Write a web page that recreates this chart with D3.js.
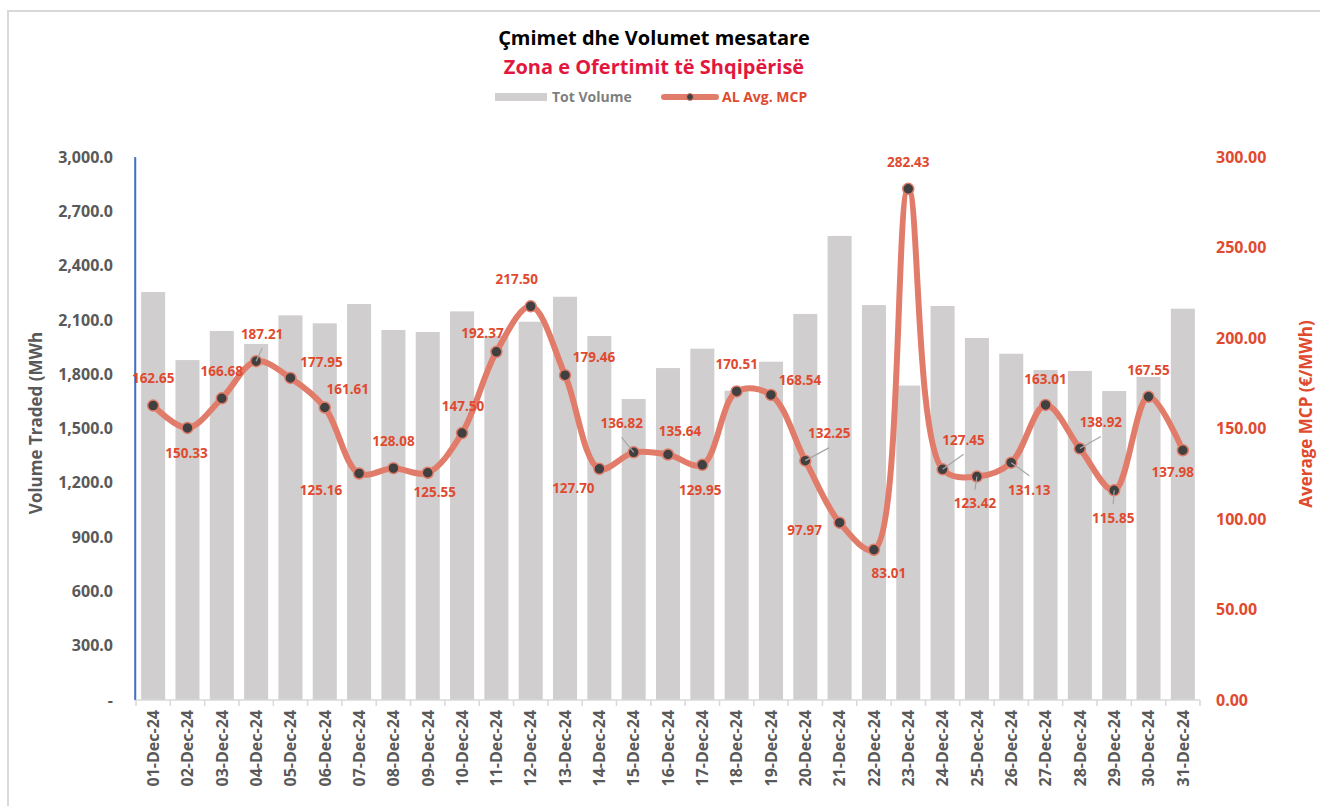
<!DOCTYPE html>
<html>
<head>
<meta charset="utf-8">
<script src="https://cdn.jsdelivr.net/npm/d3@7"></script>
<style>
  html, body { margin: 0; padding: 0; background: #fff; }
  svg { display: block; }
  text { font-family: "Open Sans", "Noto Sans", sans-serif; font-weight: 700; }
</style>
</head>
<body>
<svg id="chart" width="1320" height="806"></svg>
<script>
const dates = ["01-Dec-24","02-Dec-24","03-Dec-24","04-Dec-24","05-Dec-24","06-Dec-24","07-Dec-24","08-Dec-24","09-Dec-24","10-Dec-24","11-Dec-24","12-Dec-24","13-Dec-24","14-Dec-24","15-Dec-24","16-Dec-24","17-Dec-24","18-Dec-24","19-Dec-24","20-Dec-24","21-Dec-24","22-Dec-24","23-Dec-24","24-Dec-24","25-Dec-24","26-Dec-24","27-Dec-24","28-Dec-24","29-Dec-24","30-Dec-24","31-Dec-24"];
const totVolume = [2254,1878,2039,1967,2125,2081,2188,2044,2033,2147,2011,2090,2228,2011,1663,1834,1941,1709,1869,2133,2564,2182,1737,2177,2000,1913,1823,1818,1707,1785,2162];
const avgMCP = [162.65,150.33,166.68,187.21,177.95,161.61,125.16,128.08,125.55,147.50,192.37,217.50,179.46,127.70,136.82,135.64,129.95,170.51,168.54,132.25,97.97,83.01,282.43,127.45,123.42,131.13,163.01,138.92,115.85,167.55,137.98];
const volumeTicks = [0,300,600,900,1200,1500,1800,2100,2400,2700,3000];
const mcpTicks = [0,50,100,150,200,250,300];
const titleText = "Çmimet dhe Volumet mesatare";
const subtitleText = "Zona e Ofertimit të Shqipërisë";
const seriesNames = ["Tot Volume", "AL Avg. MCP"];
const leftAxisTitle = "Volume Traded (MWh";
const rightAxisTitle = "Average MCP (€/MWh)";

// label placement (layout only): [dx, dy, leader]
const labelLayout = [
  [0,-27,0],[-1,25,0],[0,-27,0],[6,-27,1],[31,-16,0],[23,-18,0],[-38,17,0],[0,-27,0],[7,19,0],[1,-27,0],
  [-14,-19,0],[-14,-27,0],[29,-18,0],[-26,19,0],[-12,-29,1],[12,-23,0],[-2,25,0],[0,-27,0],[29,-15,0],[24,-27,1],
  [-35,7,0],[15,23,0],[0,-27,0],[21,-29,1],[-2,27,1],[18,27,1],[0,-26,0],[21,-26,1],[-1,28,1],[0,-27,0],[-10,22,0]
];

const C = {
  bar: "#D0CECE", line: "#E27C6A", marker: "#404040", label: "#E04A2F",
  title: "#000000", subtitle: "#E3173E", gray: "#595959", legendGray: "#7F7F7F",
  axisBlue: "#4472C4", axisGray: "#D9D9D9", leader: "#A6A6A6"
};

const svg = d3.select("#chart");
const plot = {left: 136, right: 1200, top: 157, bottom: 700};

// outer border
svg.append("rect").attr("x", 8).attr("y", 11).attr("width", 1330).attr("height", 800)
  .attr("fill", "none").attr("stroke", C.axisGray).attr("stroke-width", 2);

const x = d3.scaleBand().domain(dates).range([plot.left, plot.right]).paddingInner(0.3).paddingOuter(0.15);
const yL = d3.scaleLinear().domain([0, 3000]).range([plot.bottom, plot.top]);
const yR = d3.scaleLinear().domain([0, 300]).range([plot.bottom, plot.top]);

// Bars
svg.append("g").selectAll("rect").data(totVolume).join("rect")
  .attr("x", (d, i) => x(dates[i]))
  .attr("width", x.bandwidth())
  .attr("y", d => yL(d))
  .attr("height", d => yL(0) - yL(d))
  .attr("fill", C.bar);

// Left axis
const gL = svg.append("g").attr("transform", `translate(${plot.left - 1},0)`)
  .call(d3.axisLeft(yL).tickValues(volumeTicks).tickSize(0).tickPadding(22)
    .tickFormat(d => d === 0 ? "-    " : d3.format(",.1f")(d)));
gL.select(".domain").attr("stroke", C.axisBlue).attr("stroke-width", 1.5);
gL.selectAll("text").attr("fill", C.gray).attr("font-size", 16).style("font-family", '"Open Sans", sans-serif').style("font-weight", 700);

// Right axis
const gR = svg.append("g").attr("transform", `translate(${plot.right + 16},0)`)
  .call(d3.axisRight(yR).tickValues(mcpTicks).tickSize(0).tickPadding(0).tickFormat(d3.format(".2f")));
gR.select(".domain").remove();
gR.selectAll("text").attr("fill", C.label).attr("font-size", 16).style("font-family", '"Open Sans", sans-serif').style("font-weight", 700);

// Bottom axis
const gB = svg.append("g").attr("transform", `translate(0,${plot.bottom})`);
gB.append("line").attr("x1", plot.left - 1).attr("x2", plot.right).attr("stroke", C.axisGray).attr("stroke-width", 1.5);
const boundaries = d3.range(dates.length + 1).map(i => i === dates.length ? plot.right : x(dates[i]) - x.step() * x.paddingInner() / 2);
gB.selectAll("line.tick").data(boundaries).join("line").attr("class", "tick")
  .attr("x1", d => d).attr("x2", d => d).attr("y1", 0).attr("y2", 6)
  .attr("stroke", C.axisGray).attr("stroke-width", 1.5);
gB.selectAll("text").data(dates).join("text")
  .attr("transform", d => `translate(${x(d) + x.bandwidth() / 2},10) rotate(-90)`)
  .attr("text-anchor", "end").attr("dy", "0.36em")
  .attr("fill", C.gray).attr("font-size", 16).text(d => d);

// blue axis line on top of bars
svg.append("line").attr("x1", plot.left - 1).attr("x2", plot.left - 1).attr("y1", plot.top).attr("y2", plot.bottom)
  .attr("stroke", C.axisBlue).attr("stroke-width", 1.5);

// Line
const cx = i => x(dates[i]) + x.bandwidth() / 2;
const lineGen = d3.line().x((d, i) => cx(i)).y(d => yR(d)).curve(d3.curveCatmullRom.alpha(0.5));
svg.append("path").datum(avgMCP).attr("d", lineGen)
  .attr("fill", "none").attr("stroke", C.line).attr("stroke-width", 6).attr("stroke-linecap", "round");

// Markers
svg.append("g").selectAll("circle").data(avgMCP).join("circle")
  .attr("cx", (d, i) => cx(i)).attr("cy", d => yR(d)).attr("r", 5.5)
  .attr("fill", C.marker).attr("stroke", C.line).attr("stroke-width", 1.5);

// Leader lines
svg.append("g").selectAll("line").data(avgMCP.map((d, i) => ({d, i})).filter(o => labelLayout[o.i][2]))
  .join("line")
  .attr("x1", o => cx(o.i)).attr("y1", o => yR(o.d))
  .attr("x2", o => cx(o.i) + labelLayout[o.i][0])
  .attr("y2", o => yR(o.d) + labelLayout[o.i][1] - Math.sign(labelLayout[o.i][1]) * 14)
  .attr("stroke", C.leader).attr("stroke-width", 1.2);

// Data labels
svg.append("g").selectAll("text").data(avgMCP).join("text")
  .attr("x", (d, i) => cx(i) + labelLayout[i][0])
  .attr("y", (d, i) => yR(d) + labelLayout[i][1])
  .attr("dy", "0.36em").attr("text-anchor", "middle")
  .attr("fill", C.label).attr("font-size", 13.5)
  .text(d => d3.format(".2f")(d));

// Titles
svg.append("text").attr("x", 654).attr("y", 38).attr("dy", "0.36em").attr("text-anchor", "middle")
  .attr("fill", C.title).attr("font-size", 20).text(titleText);
svg.append("text").attr("x", 654).attr("y", 67).attr("dy", "0.36em").attr("text-anchor", "middle")
  .attr("fill", C.subtitle).attr("font-size", 20).text(subtitleText);

// Legend
const lg = svg.append("g");
lg.append("rect").attr("x", 495).attr("y", 93).attr("width", 52).attr("height", 8).attr("fill", C.bar);
lg.append("text").attr("x", 552).attr("y", 97).attr("dy", "0.36em").attr("fill", C.legendGray).attr("font-size", 14).text(seriesNames[0]);
lg.append("line").attr("x1", 664).attr("x2", 716).attr("y1", 97).attr("y2", 97)
  .attr("stroke", C.line).attr("stroke-width", 6).attr("stroke-linecap", "round");
lg.append("circle").attr("cx", 690).attr("cy", 97).attr("r", 3.5).attr("fill", C.marker).attr("stroke", C.line).attr("stroke-width", 1);
lg.append("text").attr("x", 722).attr("y", 97).attr("dy", "0.36em").attr("fill", C.label).attr("font-size", 14).text(seriesNames[1]);

// Axis titles
svg.append("text").attr("transform", "translate(36,423) rotate(-90)").attr("text-anchor", "middle").attr("dy", "0.36em")
  .attr("fill", C.gray).attr("font-size", 17).text(leftAxisTitle);
svg.append("text").attr("transform", "translate(1306,414) rotate(-90)").attr("text-anchor", "middle").attr("dy", "0.36em")
  .attr("fill", C.label).attr("font-size", 17).text(rightAxisTitle);
</script>
</body>
</html>
